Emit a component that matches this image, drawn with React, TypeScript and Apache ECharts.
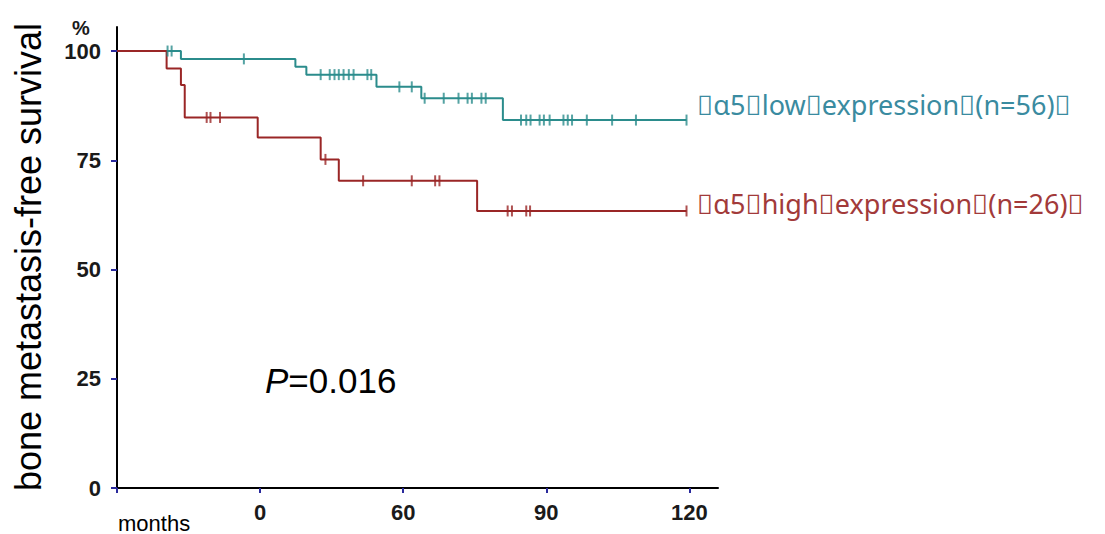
import React, { useEffect, useRef } from "react";
import * as echarts from "echarts";

// Kaplan-Meier step data (months, % survival)
const lowTimes = [0, 13.4, 37.4, 39.7, 54.4, 63.8, 80.9, 119.4];
const lowSurv = [100, 98.2, 96.4, 94.6, 91.8, 89.2, 84.2, 84.2];
const lowCensor = [
  10.6, 11.45, 26.6, 42.7, 44.6, 45.6, 46.5, 47.5, 48.6, 49.6, 52.5, 53.3, 59.2, 61.8,
  64.5, 68.5, 71.6, 73.5, 74.4, 76.4, 77.3, 84.7, 85.8, 86.7, 88.6, 89.5, 90.7, 93.6,
  94.5, 95.4, 98.5, 103.8, 108.8, 119.4,
];

const highTimes = [0, 10.4, 13.4, 14.2, 29.5, 42.7, 46.5, 75.5, 119.4];
const highSurv = [100, 96.0, 92.2, 84.8, 80.2, 75.2, 70.3, 63.4, 63.4];
const highCensor = [18.8, 19.6, 21.6, 43.7, 51.6, 61.8, 66.7, 67.6, 81.9, 82.8, 85.8, 86.6, 119.4];

const xTickValues = [0, 30, 60, 90, 120];
const xTickLabels = ["", "0", "60", "90", "120"];
const yTickValues = [0, 25, 50, 75, 100];

const lowLabel = "\uF020α5\uF020low\uF020expression\uF020(n=56)\uF020";
const highLabel = "\uF020α5\uF020high\uF020expression\uF020(n=26)\uF020";
const yTitle = "bone metastasis-free survival";

const TEAL = "#2b8c8c";
const RED = "#9a2626";
const TEAL_TEXT = "#3a8ba0";
const RED_TEXT = "#a23a3a";
const TICK = "#2a2a9c";
const LABEL = "#1a1a1a";

function survAt(times: number[], vals: number[], t: number) {
  let v = vals[0];
  for (let i = 0; i < times.length; i++) {
    if (times[i] <= t) v = vals[i];
  }
  return v;
}

export default function App() {
  const ref = useRef<HTMLDivElement>(null);
  useEffect(() => {
    if (!ref.current) return;
    const chart = echarts.init(ref.current, null, { renderer: "svg" });
    const font = "Liberation Sans, Arial, sans-serif";
    chart.setOption({
      animation: false,
      backgroundColor: "#ffffff",
      grid: { left: 117, right: 387, top: 27, bottom: 46 },
      xAxis: {
        type: "value",
        min: 0,
        max: 126,
        interval: 30,
        axisLine: { show: true, lineStyle: { color: "#000", width: 2 } },
        axisTick: { show: true, length: 5, customValues: xTickValues, lineStyle: { color: TICK, width: 2 } },
        axisLabel: {
          customValues: xTickValues,
          margin: 13,
          fontFamily: font,
          fontWeight: "bold",
          fontSize: 22,
          color: LABEL,
          formatter: (v: number) => xTickLabels[xTickValues.indexOf(v)] ?? "",
        },
        splitLine: { show: false },
      },
      yAxis: {
        type: "value",
        min: 0,
        max: 105.5,
        interval: 25,
        axisLine: { show: true, lineStyle: { color: "#000", width: 2 } },
        axisTick: { show: true, length: 6, customValues: yTickValues, lineStyle: { color: TICK, width: 2 } },
        axisLabel: {
          customValues: yTickValues,
          margin: 16,
          fontFamily: font,
          fontWeight: "bold",
          fontSize: 22,
          color: LABEL,
        },
        splitLine: { show: false },
      },
      series: [
        {
          type: "line",
          step: "end",
          symbol: "none",
          data: lowTimes.map((t, i) => [t, lowSurv[i]]),
          lineStyle: { color: TEAL, width: 2 },
          z: 3,
        },
        {
          type: "line",
          step: "end",
          symbol: "none",
          data: highTimes.map((t, i) => [t, highSurv[i]]),
          lineStyle: { color: RED, width: 2 },
          z: 4,
        },
        {
          type: "scatter",
          symbol: "rect",
          symbolSize: [2, 11],
          data: lowCensor.map((t) => [t, survAt(lowTimes, lowSurv, t)]),
          itemStyle: { color: TEAL },
          z: 5,
        },
        {
          type: "scatter",
          symbol: "rect",
          symbolSize: [2, 11],
          data: highCensor.map((t) => [t, survAt(highTimes, highSurv, t)]),
          itemStyle: { color: RED },
          z: 6,
        },
      ],
      graphic: [
        {
          type: "text",
          x: 28,
          y: 257,
          rotation: Math.PI / 2,
          style: {
            text: yTitle,
            fontFamily: font,
            fontSize: 36,
            fill: "#000",
            align: "center",
            verticalAlign: "middle",
          },
        },
        {
          type: "text",
          x: 81,
          y: 28,
          style: {
            text: "%",
            fontFamily: font,
            fontWeight: "bold",
            fontSize: 20,
            fill: LABEL,
            align: "center",
            verticalAlign: "middle",
          },
        },
        {
          type: "text",
          x: 265,
          y: 380,
          style: {
            rich: {
              i: { fontFamily: font, fontStyle: "italic", fontSize: 35, fill: "#000" },
              n: { fontFamily: font, fontSize: 35, fill: "#000" },
            },
            text: "{i|P}{n|=0.016}",
            verticalAlign: "middle",
          },
        },
        {
          type: "text",
          x: 118,
          y: 523,
          style: {
            text: "months",
            fontFamily: font,
            fontSize: 22,
            fill: "#000",
            verticalAlign: "middle",
          },
        },
        {
          type: "text",
          x: 697,
          y: 104,
          style: {
            text: lowLabel,
            fontFamily: "Noto Sans, sans-serif",
            fontSize: 27,
            fill: TEAL_TEXT,
            verticalAlign: "middle",
          },
        },
        {
          type: "text",
          x: 697,
          y: 203,
          style: {
            text: highLabel,
            fontFamily: "Noto Sans, sans-serif",
            fontSize: 27,
            fill: RED_TEXT,
            verticalAlign: "middle",
          },
        },
      ],
    });
    return () => chart.dispose();
  }, []);
  return (
    <div
      ref={ref}
      style={{ position: "fixed", left: 0, top: 0, width: 1105, height: 534, background: "#fff" }}
    />
  );
}
